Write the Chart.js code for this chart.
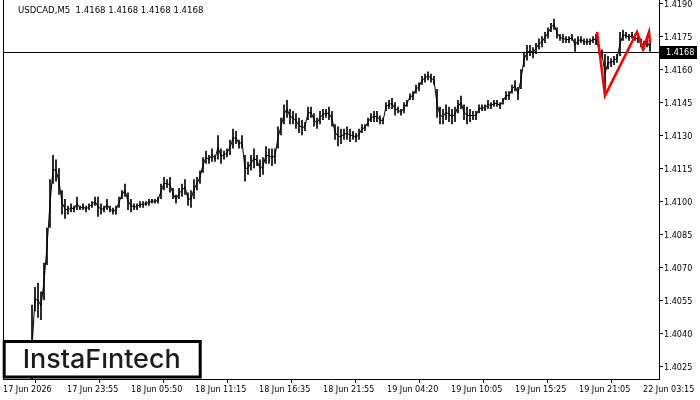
<!DOCTYPE html>
<html>
<head>
<meta charset="utf-8">
<script src="https://cdn.jsdelivr.net/npm/chart.js@4"></script>
<style>
  html, body { margin: 0; padding: 0; background: #fff; }
  #wrap { width: 700px; height: 400px; }
</style>
</head>
<body>
<div id="wrap"><canvas id="chart" width="700" height="400"></canvas></div>
<script>
const symbolTitle = "USDCAD,M5  1.4168 1.4168 1.4168 1.4168";
const lastPrice = 1.4168;

// one sampled bar every 3 M5 bars, counted from the left edge of the window
const firstBar = 29;
const barStep = 3;

const highs = [
  1.4053, 1.4061, 1.4063, 1.4059, 1.4072, 1.4088, 1.4110, 1.4121, 1.4119, 1.4115,
  1.4105, 1.4101, 1.4098, 1.4099, 1.4098, 1.4102, 1.4098, 1.4099, 1.4098, 1.4099,
  1.4100, 1.4102, 1.4102, 1.4099, 1.4098, 1.4101, 1.4098, 1.4097, 1.4098, 1.4102,
  1.4105, 1.4108, 1.4104, 1.4101, 1.4099, 1.4099, 1.4100, 1.4100, 1.4100, 1.4101,
  1.4101, 1.4101, 1.4102, 1.4108, 1.4111, 1.4110, 1.4111, 1.4106, 1.4103, 1.4106,
  1.4108, 1.4110, 1.4104, 1.4105, 1.4110, 1.4111, 1.4114, 1.4120, 1.4123, 1.4121,
  1.4124, 1.4121, 1.4130, 1.4124, 1.4123, 1.4124, 1.4128, 1.4133, 1.4132, 1.4128,
  1.4130, 1.4121, 1.4118, 1.4121, 1.4124, 1.4121, 1.4119, 1.4120, 1.4125, 1.4124,
  1.4124, 1.4124, 1.4134, 1.4138, 1.4144, 1.4146, 1.4142, 1.4141, 1.4140, 1.4138,
  1.4137, 1.4136, 1.4143, 1.4143, 1.4140, 1.4138, 1.4141, 1.4142, 1.4142, 1.4143,
  1.4141, 1.4135, 1.4134, 1.4133, 1.4133, 1.4134, 1.4133, 1.4132, 1.4131, 1.4133,
  1.4135, 1.4135, 1.4138, 1.4140, 1.4141, 1.4141, 1.4139, 1.4138, 1.4145, 1.4146,
  1.4147, 1.4145, 1.4143, 1.4142, 1.4145, 1.4146, 1.4149, 1.4150, 1.4153, 1.4154,
  1.4157, 1.4158, 1.4159, 1.4158, 1.4157, 1.4151, 1.4143, 1.4142, 1.4144, 1.4143,
  1.4142, 1.4143, 1.4146, 1.4148, 1.4144, 1.4143, 1.4142, 1.4141, 1.4141, 1.4144,
  1.4144, 1.4144, 1.4146, 1.4145, 1.4146, 1.4146, 1.4145, 1.4147, 1.4150, 1.4150,
  1.4153, 1.4155, 1.4152, 1.4160, 1.4168, 1.4171, 1.4171, 1.4170, 1.4172, 1.4174,
  1.4175, 1.4177, 1.4179, 1.4181, 1.4183, 1.4179, 1.4176, 1.4176, 1.4175, 1.4175,
  1.4176, 1.4174, 1.4175, 1.4175, 1.4174, 1.4174, 1.4174, 1.4175, 1.4176, 1.4171,
  1.4169, 1.4167, 1.4166, 1.4165, 1.4166, 1.4167, 1.4177, 1.4178, 1.4177, 1.4176,
  1.4177, 1.4176, 1.4175, 1.4174, 1.4173, 1.4175, 1.4172
];

const lows = [
  1.4014, 1.4050, 1.4047, 1.4046, 1.4055, 1.4071, 1.4088, 1.4108, 1.4109, 1.4103,
  1.4094, 1.4092, 1.4094, 1.4095, 1.4095, 1.4096, 1.4096, 1.4096, 1.4095, 1.4096,
  1.4097, 1.4098, 1.4093, 1.4094, 1.4095, 1.4096, 1.4095, 1.4094, 1.4094, 1.4097,
  1.4101, 1.4102, 1.4096, 1.4095, 1.4096, 1.4096, 1.4097, 1.4097, 1.4098, 1.4098,
  1.4099, 1.4099, 1.4099, 1.4101, 1.4105, 1.4106, 1.4104, 1.4101, 1.4099, 1.4101,
  1.4102, 1.4103, 1.4098, 1.4097, 1.4101, 1.4105, 1.4108, 1.4113, 1.4117, 1.4117,
  1.4118, 1.4118, 1.4119, 1.4117, 1.4119, 1.4120, 1.4121, 1.4124, 1.4126, 1.4124,
  1.4124, 1.4109, 1.4112, 1.4114, 1.4115, 1.4116, 1.4111, 1.4112, 1.4117, 1.4117,
  1.4116, 1.4117, 1.4124, 1.4130, 1.4135, 1.4138, 1.4135, 1.4135, 1.4133, 1.4131,
  1.4130, 1.4132, 1.4137, 1.4138, 1.4134, 1.4133, 1.4135, 1.4137, 1.4138, 1.4137,
  1.4134, 1.4128, 1.4125, 1.4126, 1.4128, 1.4128, 1.4127, 1.4128, 1.4127, 1.4128,
  1.4131, 1.4132, 1.4134, 1.4136, 1.4136, 1.4136, 1.4135, 1.4135, 1.4141, 1.4142,
  1.4142, 1.4139, 1.4140, 1.4139, 1.4140, 1.4143, 1.4146, 1.4146, 1.4149, 1.4150,
  1.4153, 1.4154, 1.4155, 1.4154, 1.4153, 1.4138, 1.4135, 1.4135, 1.4137, 1.4136,
  1.4135, 1.4136, 1.4140, 1.4142, 1.4137, 1.4135, 1.4136, 1.4137, 1.4137, 1.4140,
  1.4141, 1.4141, 1.4142, 1.4142, 1.4143, 1.4143, 1.4142, 1.4144, 1.4146, 1.4146,
  1.4149, 1.4150, 1.4146, 1.4151, 1.4161, 1.4164, 1.4166, 1.4165, 1.4167, 1.4169,
  1.4170, 1.4172, 1.4174, 1.4177, 1.4178, 1.4174, 1.4173, 1.4172, 1.4172, 1.4172,
  1.4173, 1.4168, 1.4171, 1.4172, 1.4171, 1.4171, 1.4171, 1.4172, 1.4171, 1.4167,
  1.4165, 1.4149, 1.4160, 1.4161, 1.4162, 1.4163, 1.4166, 1.4173, 1.4174, 1.4173,
  1.4174, 1.4173, 1.4172, 1.4170, 1.4169, 1.4170, 1.4168
];

// red pattern polyline
const patternBars = [594, 602, 634, 640, 646, 647];
const patternPrices = [1.4177, 1.4148, 1.4177, 1.4169, 1.4177, 1.4172];

const timeTickBars = [0, 64, 128, 192, 256, 320, 384, 448, 512, 576, 640];
const timeLabels = [
  "17 Jun 2026", "17 Jun 23:55", "18 Jun 05:50", "18 Jun 11:15", "18 Jun 16:35",
  "18 Jun 21:55", "19 Jun 04:20", "19 Jun 10:05", "19 Jun 15:25", "19 Jun 21:05",
  "22 Jun 03:15"
];
const priceTicks = [
  1.4025, 1.4040, 1.4055, 1.4070, 1.4085, 1.4100, 1.4115, 1.4130, 1.4145, 1.4160, 1.4175, 1.4190
];

const family = '"DejaVu Sans Condensed", "Liberation Sans", sans-serif';

const bars = highs.map((h, i) => ({ x: firstBar + i * barStep, y: [lows[i], h] }));
// thin trace through the middle of each bar so the bars join up like the M5 chart
const trace = highs.map((h, i) => ({ x: firstBar + i * barStep, y: (h + lows[i]) / 2 }));
const pattern = patternBars.map((b, i) => ({ x: b, y: patternPrices[i] }));

const overlay = {
  id: "overlay",
  beforeDatasetsDraw(chart) {
    const { ctx, chartArea: a, scales } = chart;
    const y = Math.round(scales.y.getPixelForValue(lastPrice)) + 0.5;
    ctx.save();
    ctx.strokeStyle = "#000";
    ctx.lineWidth = 1;
    ctx.beginPath();
    ctx.moveTo(a.left, y);
    ctx.lineTo(a.right, y);
    ctx.stroke();
    ctx.restore();
  },
  afterDraw(chart) {
    const { ctx, chartArea: a, scales } = chart;
    ctx.save();

    // left frame line
    ctx.strokeStyle = "#000";
    ctx.lineWidth = 1;
    ctx.beginPath();
    ctx.moveTo(a.left + 0.5, a.top);
    ctx.lineTo(a.left + 0.5, a.bottom);
    ctx.stroke();

    // symbol title
    ctx.fillStyle = "#000";
    ctx.font = "9.5px " + family;
    ctx.textBaseline = "middle";
    ctx.textAlign = "left";
    ctx.fillText(symbolTitle, 18, 11);

    // last price marker on the axis
    ctx.font = "9px " + family;
    const py = Math.round(scales.y.getPixelForValue(lastPrice));
    ctx.fillStyle = "#000";
    ctx.fillRect(660, py - 6, 37, 13);
    ctx.fillStyle = "#fff";
    ctx.fillText(lastPrice.toFixed(4), 666, py + 0.5);

    // logo box
    ctx.fillStyle = "#fff";
    ctx.fillRect(3, 340, 199, 38);
    ctx.strokeStyle = "#000";
    ctx.lineWidth = 3;
    ctx.strokeRect(4.2, 341.5, 196, 35.5);
    ctx.fillStyle = "#1c1c1c";
    ctx.font = '500 26px Inter, "Liberation Sans", sans-serif';
    ctx.textBaseline = "alphabetic";
    const logo = "InstaF\u0131ntech";
    const w = ctx.measureText(logo).width;
    ctx.translate(22.7, 368.3);
    ctx.scale(158 / w, 1);
    ctx.fillText(logo, 0, 0);

    ctx.restore();
  }
};

new Chart(document.getElementById("chart"), {
  type: "bar",
  data: {
    datasets: [
      {
        type: "line",
        data: pattern,
        borderColor: "#ff0000",
        borderWidth: 2.5,
        pointRadius: 0,
        tension: 0,
        order: 0
      },
      {
        type: "line",
        data: trace,
        borderColor: "#000",
        borderWidth: 1,
        pointRadius: 0,
        tension: 0,
        order: 1
      },
      {
        data: bars,
        backgroundColor: "#000",
        borderWidth: 0,
        barPercentage: 1,
        categoryPercentage: 0.55,
        order: 2
      }
    ]
  },
  options: {
    responsive: false,
    animation: false,
    layout: { padding: { left: 3, top: 0, right: 0, bottom: 0 } },
    plugins: { legend: { display: false }, tooltip: { enabled: false } },
    scales: {
      x: {
        type: "linear",
        min: 0,
        max: 656,
        offset: false,
        grid: { drawOnChartArea: false, tickLength: 4, color: "#000" },
        border: { display: true, color: "#000" },
        ticks: {
          align: "start",
          maxRotation: 0,
          autoSkip: false,
          padding: 1,
          color: "#000",
          font: { family, size: 9 },
          callback: (v, i) => timeLabels[i]
        },
        afterBuildTicks: (s) => { s.ticks = timeTickBars.map((v) => ({ value: v })); },
        afterFit: (s) => { s.height = 21; s.paddingLeft = 0; s.paddingRight = 0; }
      },
      y: {
        position: "right",
        min: 1.40192,
        max: 1.41915,
        grid: { drawOnChartArea: false, tickLength: 4, color: "#000" },
        border: { display: true, color: "#000" },
        ticks: {
          padding: 1,
          labelOffset: 1.5,
          color: "#000",
          font: { family, size: 9 },
          callback: (v) => v.toFixed(4)
        },
        afterBuildTicks: (s) => { s.ticks = priceTicks.map((v) => ({ value: v })); },
        afterFit: (s) => { s.width = 41; s.paddingTop = 0; s.paddingBottom = 0; }
      }
    }
  },
  plugins: [overlay]
});
</script>
</body>
</html>
